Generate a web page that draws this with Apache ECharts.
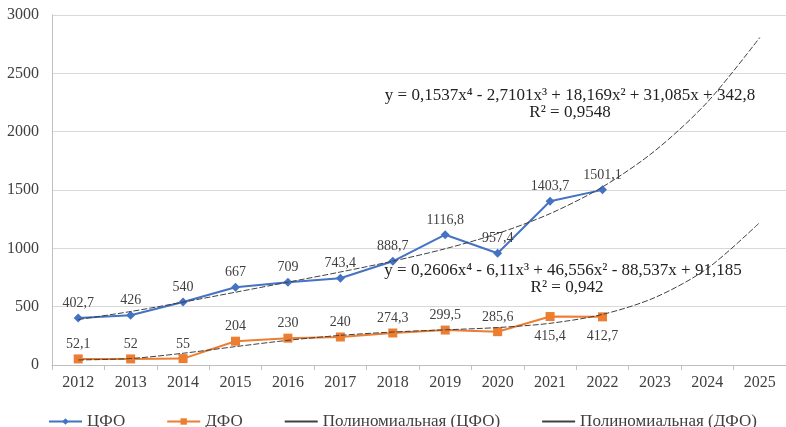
<!DOCTYPE html>
<html>
<head>
<meta charset="utf-8">
<script src="https://cdn.jsdelivr.net/npm/echarts@6/dist/echarts.min.js"></script>
<style>
	html, body { margin: 0; padding: 0; background: #fff; }
	#chart { width: 786px; height: 427px; }
</style>
</head>
<body>
<div id="chart"></div>
<script>
// годы
const years = ['2012', '2013', '2014', '2015', '2016', '2017', '2018', '2019', '2020', '2021', '2022', '2023', '2024', '2025'];
// фактические значения
const cfo = [402.7, 426, 540, 667, 709, 743.4, 888.7, 1116.8, 957.4, 1403.7, 1501.1];
const dfo = [52.1, 52, 55, 204, 230, 240, 274.3, 299.5, 285.6, 415.4, 412.7];
// полиномиальные тренды (значения по годам)
const cfoTrend = [389.5, 458.4, 538.9, 623.7, 709.8, 797.2, 890.2, 996.3, 1127.0, 1297.5, 1526.4, 1836.2, 2253.2, 2807.1];
const dfoTrend = [43.4, 55.6, 100.7, 157.6, 211.5, 254.0, 282.6, 301.4, 321.0, 357.4, 433.6, 578.5, 827.5, 1222.0];
// шкала оси Y
const yMin = 0, yMax = 3000, yStep = 500;
// подписи ДФО, стоящие под точкой
const dfoBelow = [9, 10];

const font = "'Liberation Serif', 'Times New Roman', serif";
const txt = '#404040';
const fmt = v => String(v).replace('.', ',');

let myChart = echarts.init(document.getElementById('chart'));

let option = {
	animation: false,
	textStyle: { fontFamily: font },
	grid: { left: 52, top: 15, width: 739, height: 350 },
	xAxis: {
		type: 'category',
		data: years,
		boundaryGap: true,
		axisLine: { lineStyle: { color: '#bfbfbf' } },
		axisTick: { show: true, length: 5, lineStyle: { color: '#bfbfbf' } },
		axisLabel: { color: txt, fontSize: 16, fontFamily: font, margin: 10 }
	},
	yAxis: {
		type: 'value',
		min: yMin,
		max: yMax,
		interval: yStep,
		axisLine: { show: true, lineStyle: { color: '#bfbfbf' } },
		axisTick: { show: false },
		axisLabel: { color: txt, fontSize: 16, fontFamily: font, margin: 13, formatter: v => String(v) },
		splitLine: { lineStyle: { color: '#d9d9d9' } }
	},
	legend: {
		left: 43,
		top: 408,
		itemWidth: 33,
		itemHeight: 8,
		itemGap: 41,
		textStyle: { color: txt, fontSize: 17, fontFamily: font },
		data: [
			{ name: 'ЦФО' },
			{ name: 'ДФО' },
			{ name: 'Полиномиальная (ЦФО)', itemStyle: { opacity: 0 }, lineStyle: { type: 'solid', opacity: 1 } },
			{ name: 'Полиномиальная (ДФО)', itemStyle: { opacity: 0 }, lineStyle: { type: 'solid', opacity: 1 } }
		]
	},
	series: [
		{
			name: 'ЦФО',
			type: 'line',
			data: cfo,
			symbol: 'diamond',
			symbolSize: 9,
			itemStyle: { color: '#4472C4' },
			lineStyle: { width: 2, color: '#4472C4' },
			label: {
				show: true,
				position: 'top',
				distance: 3,
				color: txt,
				fontSize: 14,
				fontFamily: font,
				formatter: p => fmt(p.value)
			},
			z: 2
		},
		{
			name: 'ДФО',
			type: 'line',
			data: dfo.map((v, i) => dfoBelow.indexOf(i) >= 0
				? { value: v, label: { position: 'bottom', distance: 8 } }
				: v),
			symbol: 'rect',
			symbolSize: 9,
			itemStyle: { color: '#ED7D31' },
			lineStyle: { width: 2, color: '#ED7D31' },
			label: {
				show: true,
				position: 'top',
				distance: 3,
				color: txt,
				fontSize: 14,
				fontFamily: font,
				formatter: p => fmt(p.value)
			},
			z: 2
		},
		{
			name: 'Полиномиальная (ЦФО)',
			type: 'line',
			data: cfoTrend,
			smooth: 0.3,
			symbol: 'none',
			itemStyle: { color: '#404040' },
			lineStyle: { width: 1, color: '#404040', type: [6, 2] },
			z: 3
		},
		{
			name: 'Полиномиальная (ДФО)',
			type: 'line',
			data: dfoTrend,
			smooth: 0.3,
			symbol: 'none',
			itemStyle: { color: '#404040' },
			lineStyle: { width: 1, color: '#404040', type: [6, 2] },
			z: 3
		}
	],
	graphic: [
		{
			type: 'text', x: 570, y: 96, z: 10,
			style: { text: 'y = 0,1537x⁴ - 2,7101x³ + 18,169x² + 31,085x + 342,8', fill: '#222', font: '17px ' + font, align: 'center', verticalAlign: 'middle' }
		},
		{
			type: 'text', x: 570, y: 113, z: 10,
			style: { text: 'R² = 0,9548', fill: '#222', font: '17px ' + font, align: 'center', verticalAlign: 'middle' }
		},
		{
			type: 'text', x: 563, y: 271, z: 10,
			style: { text: 'y = 0,2606x⁴ - 6,11x³ + 46,556x² - 88,537x + 91,185', fill: '#222', font: '17px ' + font, align: 'center', verticalAlign: 'middle' }
		},
		{
			type: 'text', x: 567, y: 288, z: 10,
			style: { text: 'R² = 0,942', fill: '#222', font: '17px ' + font, align: 'center', verticalAlign: 'middle' }
		}
	]
};

myChart.setOption(option);
</script>
</body>
</html>
